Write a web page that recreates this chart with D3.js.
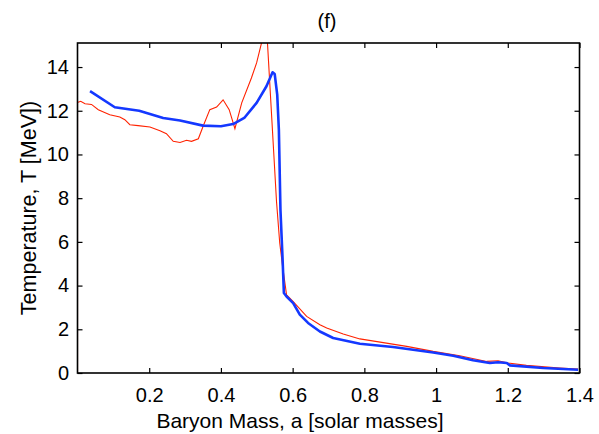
<!DOCTYPE html>
<html>
<head>
<meta charset="utf-8">
<script src="https://cdn.jsdelivr.net/npm/d3@7"></script>
<style>
  body { margin: 0; background: #fff; }
  svg text { font-family: "Liberation Sans", Arial, Helvetica, sans-serif; fill: #000; }
</style>
</head>
<body>
<svg id="chart" width="599" height="434"></svg>
<script>
// baryon mass a [solar masses] and temperature T [MeV]
var blueMass = [0.035, 0.104, 0.172, 0.239, 0.286, 0.35, 0.4, 0.434, 0.465, 0.4995, 0.527, 0.544, 0.55, 0.557, 0.5616, 0.566, 0.572, 0.5756, 0.583, 0.6015, 0.62, 0.643, 0.676, 0.713, 0.7875, 0.88, 0.992, 1.048, 1.103, 1.15, 1.173, 1.197, 1.206, 1.299, 1.396];
var blueTemp = [12.9, 12.16, 12.0, 11.67, 11.55, 11.32, 11.29, 11.39, 11.67, 12.36, 13.12, 13.76, 13.68, 12.74, 11.13, 7.47, 5.19, 3.66, 3.5, 3.2, 2.67, 2.29, 1.9, 1.6, 1.34, 1.19, 0.94, 0.79, 0.58, 0.46, 0.49, 0.46, 0.35, 0.23, 0.15];

var redMass = [0, 0, 0.009, 0.021, 0.039, 0.058, 0.09, 0.118, 0.132, 0.146, 0.169, 0.202, 0.23, 0.248, 0.267, 0.286, 0.304, 0.318, 0.337, 0.352, 0.369, 0.388, 0.406, 0.423, 0.439, 0.458, 0.485, 0.4995, 0.5267, 0.555, 0.564, 0.572, 0.583, 0.601, 0.639, 0.676, 0.695, 0.741, 0.7875, 0.918, 0.992, 1.066, 1.141, 1.173, 1.201, 1.252, 1.345, 1.396];
var redTemp = [0, 12.38, 12.43, 12.32, 12.29, 12.05, 11.82, 11.71, 11.59, 11.36, 11.32, 11.26, 11.09, 10.95, 10.6, 10.55, 10.65, 10.6, 10.72, 11.36, 12.05, 12.17, 12.5, 12.05, 11.18, 12.36, 13.5, 14.19, 16.0, 7.85, 5.95, 4.88, 3.58, 3.28, 2.59, 2.21, 2.06, 1.78, 1.56, 1.22, 0.99, 0.79, 0.53, 0.56, 0.46, 0.35, 0.23, 0.18];

var xTicks = [0.2, 0.4, 0.6, 0.8, 1, 1.2, 1.4];
var yTicks = [0, 2, 4, 6, 8, 10, 12, 14];

var margin = {left: 77.5, right: 19.5, top: 43, bottom: 61},
    width = 599 - margin.left - margin.right,
    height = 434 - margin.top - margin.bottom;

var svg = d3.select("#chart");
var g = svg.append("g").attr("transform", "translate(" + margin.left + "," + margin.top + ")");

var x = d3.scaleLinear().domain([0, 1.4]).range([0, width]);
var y = d3.scaleLinear().domain([0, 15.1]).range([height, 0]);

g.append("clipPath").attr("id", "clip")
  .append("rect").attr("width", width).attr("height", height);

var line = d3.line()
  .x(function(d) { return x(d[0]); })
  .y(function(d) { return y(d[1]); });

var red = d3.zip(redMass, redTemp);
var blue = d3.zip(blueMass, blueTemp);

g.append("path")
  .datum(red)
  .attr("clip-path", "url(#clip)")
  .attr("fill", "none")
  .attr("stroke", "#ff2200")
  .attr("stroke-width", 1.1)
  .attr("d", line);

g.append("path")
  .datum(blue)
  .attr("clip-path", "url(#clip)")
  .attr("fill", "none")
  .attr("stroke", "#1438ff")
  .attr("stroke-width", 2.6)
  .attr("stroke-linejoin", "round")
  .attr("d", line);

// axes, ticks pointing inward on all four sides
var fmt = function(d) { return d3.format("")(d); };

var xb = g.append("g").attr("transform", "translate(0," + height + ")")
  .call(d3.axisBottom(x).tickValues(xTicks).tickSize(-5).tickPadding(14.4).tickFormat(fmt));
var xt = g.append("g")
  .call(d3.axisTop(x).tickValues(xTicks).tickSize(-5).tickFormat(""));
var yl = g.append("g")
  .call(d3.axisLeft(y).tickValues(yTicks).tickSize(-5).tickPadding(8.5).tickFormat(fmt));
var yr = g.append("g").attr("transform", "translate(" + width + ",0)")
  .call(d3.axisRight(y).tickValues(yTicks).tickSize(-5).tickFormat(""));

[xb, xt, yl, yr].forEach(function(a) {
  a.select(".domain").remove();
  a.selectAll(".tick line").attr("stroke", "#000").attr("stroke-width", 1.2);
  a.selectAll(".tick text").attr("font-size", 20).attr("fill", "#000");
});

g.append("rect")
  .attr("width", width).attr("height", height)
  .attr("fill", "none").attr("stroke", "#000").attr("stroke-width", 1.6);

// labels
svg.append("text")
  .attr("x", 327).attr("y", 27.5)
  .attr("text-anchor", "middle").attr("font-size", 20)
  .text("(f)");

svg.append("text")
  .attr("x", 300).attr("y", 427.5)
  .attr("text-anchor", "middle").attr("font-size", 21)
  .text("Baryon Mass, a [solar masses]");

svg.append("text")
  .attr("transform", "translate(36," + (margin.top + height / 2) + ") rotate(-90)")
  .attr("text-anchor", "middle").attr("font-size", 21.5)
  .text("Temperature, T [MeV])");
</script>
</body>
</html>
